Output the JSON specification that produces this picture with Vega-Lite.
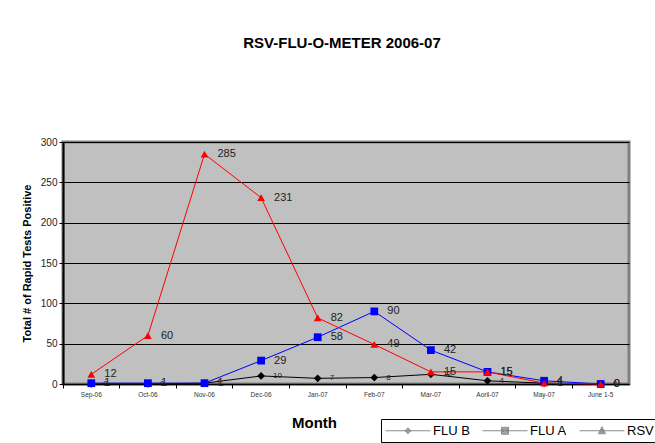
{
  "$schema": "https://vega.github.io/schema/vega-lite/v6.json",
  "width": 566,
  "height": 242,
  "autosize": {"type": "none"},
  "padding": {"left": 63, "top": 142, "right": 26, "bottom": 59},
  "background": "white",
  "title": {
    "text": "RSV-FLU-O-METER 2006-07",
    "font": "Liberation Sans",
    "fontSize": 15,
    "fontWeight": "bold",
    "color": "black",
    "anchor": "middle",
    "baseline": "alphabetic",
    "offset": 74,
    "dx": -4
  },
  "config": {
    "view": {"fill": "#C0C0C0", "stroke": "#808080", "strokeWidth": 3},
    "font": "Liberation Sans"
  },
  "data": {
    "values": [
      {"month": "Sep-06", "series": "FLU B", "value": 0},
      {"month": "Oct-06", "series": "FLU B", "value": 0},
      {"month": "Nov-06", "series": "FLU B", "value": 1},
      {"month": "Dec-06", "series": "FLU B", "value": 10},
      {"month": "Jan-07", "series": "FLU B", "value": 7},
      {"month": "Feb-07", "series": "FLU B", "value": 8},
      {"month": "Mar-07", "series": "FLU B", "value": 12},
      {"month": "Aoril-07", "series": "FLU B", "value": 4},
      {"month": "May-07", "series": "FLU B", "value": 1},
      {"month": "June 1-5", "series": "FLU B", "value": 0},
      {"month": "Sep-06", "series": "FLU A", "value": 1},
      {"month": "Oct-06", "series": "FLU A", "value": 1},
      {"month": "Nov-06", "series": "FLU A", "value": 1},
      {"month": "Dec-06", "series": "FLU A", "value": 29},
      {"month": "Jan-07", "series": "FLU A", "value": 58},
      {"month": "Feb-07", "series": "FLU A", "value": 90},
      {"month": "Mar-07", "series": "FLU A", "value": 42},
      {"month": "Aoril-07", "series": "FLU A", "value": 15},
      {"month": "May-07", "series": "FLU A", "value": 4},
      {"month": "June 1-5", "series": "FLU A", "value": 0},
      {"month": "Sep-06", "series": "RSV", "value": 12},
      {"month": "Oct-06", "series": "RSV", "value": 60},
      {"month": "Nov-06", "series": "RSV", "value": 285},
      {"month": "Dec-06", "series": "RSV", "value": 231},
      {"month": "Jan-07", "series": "RSV", "value": 82},
      {"month": "Feb-07", "series": "RSV", "value": 49},
      {"month": "Mar-07", "series": "RSV", "value": 15},
      {"month": "Aoril-07", "series": "RSV", "value": 15},
      {"month": "May-07", "series": "RSV", "value": 1},
      {"month": "June 1-5", "series": "RSV", "value": 0}
    ]
  },
  "encoding": {
    "x": {
      "field": "month",
      "type": "ordinal",
      "sort": ["Sep-06", "Oct-06", "Nov-06", "Dec-06", "Jan-07", "Feb-07", "Mar-07", "Aoril-07", "May-07", "June 1-5"],
      "scale": {"type": "band", "paddingInner": 0, "paddingOuter": 0},
      "axis": {
        "title": "Month",
        "titleFont": "Liberation Sans",
        "titleFontSize": 15,
        "titleFontWeight": "bold",
        "titleColor": "black",
        "titleX": 251,
        "titleY": 38,
        "titleBaseline": "middle",
        "labelAngle": 0,
        "labelFontSize": 6.5,
        "labelColor": "#333333",
        "labelPadding": 3,
        "labelBaseline": "top",
        "bandPosition": 0,
        "tickSize": 4,
        "tickColor": "black",
        "domainColor": "black",
        "domainWidth": 1.5,
        "grid": false
      }
    },
    "y": {
      "field": "value",
      "type": "quantitative",
      "scale": {"domain": [0, 300], "nice": false},
      "axis": {
        "title": "Total # of Rapid Tests Positive",
        "titleFont": "Liberation Sans",
        "titleFontSize": 11,
        "titleFontWeight": "bold",
        "titleColor": "black",
        "titlePadding": 8,
        "values": [0, 50, 100, 150, 200, 250, 300],
        "labelFontSize": 10,
        "labelColor": "#222222",
        "labelPadding": 2,
        "tickSize": 4,
        "tickColor": "black",
        "domainColor": "black",
        "domainWidth": 2,
        "grid": true,
        "gridColor": "black",
        "gridWidth": 1
      }
    }
  },
  "layer": [
    {
      "mark": {"type": "line", "strokeWidth": 1},
      "encoding": {
        "color": {
          "field": "series",
          "type": "nominal",
          "scale": {"domain": ["FLU B", "FLU A", "RSV"], "range": ["black", "#0000FF", "#FF0000"]},
          "legend": null
        }
      }
    },
    {
      "mark": {"type": "point", "filled": true, "size": 60, "opacity": 1},
      "encoding": {
        "color": {"field": "series", "type": "nominal", "legend": null},
        "shape": {
          "field": "series",
          "type": "nominal",
          "scale": {"domain": ["FLU B", "FLU A", "RSV"], "range": ["diamond", "square", "triangle-up"]},
          "legend": null
        }
      }
    },
    {
      "transform": [{"filter": "datum.series !== 'FLU B'"}],
      "mark": {"type": "text", "align": "left", "baseline": "middle", "dx": 13, "fontSize": 11, "color": "#222222"},
      "encoding": {"text": {"field": "value", "type": "quantitative"}}
    },
    {
      "transform": [{"filter": "datum.series === 'FLU B'"}],
      "mark": {"type": "text", "align": "left", "baseline": "middle", "dx": 12, "fontSize": 8, "color": "#222222"},
      "encoding": {"text": {"field": "value", "type": "quantitative"}}
    },
    {
      "transform": [{"filter": "datum.value < 0"}],
      "mark": {"type": "point", "filled": false, "opacity": 1, "strokeWidth": 1},
      "encoding": {
        "color": {
          "field": "series",
          "type": "nominal",
          "legend": {
            "title": null,
            "orient": "none",
            "legendX": 318,
            "legendY": 277,
            "direction": "horizontal",
            "strokeColor": "black",
            "fillColor": "white",
            "padding": 4,
            "symbolSize": 196,
            "symbolStrokeWidth": 1,
            "symbolOpacity": 1,
            "labelOffset": 33,
            "columnPadding": 10,
            "labelFontSize": 13,
            "labelFont": "Liberation Sans",
            "labelColor": "black"
          }
        },
        "shape": {
          "field": "series",
          "type": "nominal",
          "scale": {
            "domain": ["FLU B", "FLU A", "RSV"],
            "range": [
              "M-1,0H5.43M2.21,-0.43L2.64,0L2.21,0.43L1.78,0ZM2.21,-0.29L2.5,0L2.21,0.29L1.92,0ZM2.21,-0.14L2.35,0L2.21,0.14L2.07,0Z",
              "M-1,0H5.43M1.71,-0.5H2.71V0.5H1.71ZM1.85,-0.36H2.57V0.36H1.85ZM2,-0.21H2.42V0.21H2ZM2.14,-0.07H2.28V0.07H2.14Z",
              "M-1,0H5.43M2.21,-0.57L2.71,0.43H1.71ZM2.21,-0.34L2.54,0.32H1.88ZM2.21,-0.12L2.38,0.21H2.04Z"
            ]
          },
          "legend": {
            "title": null,
            "orient": "none",
            "legendX": 318,
            "legendY": 277,
            "direction": "horizontal",
            "strokeColor": "black",
            "fillColor": "white",
            "padding": 4,
            "symbolSize": 196,
            "symbolStrokeWidth": 1,
            "symbolOpacity": 1,
            "labelOffset": 33,
            "columnPadding": 10,
            "labelFontSize": 13,
            "labelFont": "Liberation Sans",
            "labelColor": "black"
          }
        }
      }
    }
  ],
  "resolve": {"scale": {"shape": "independent"}}
}
